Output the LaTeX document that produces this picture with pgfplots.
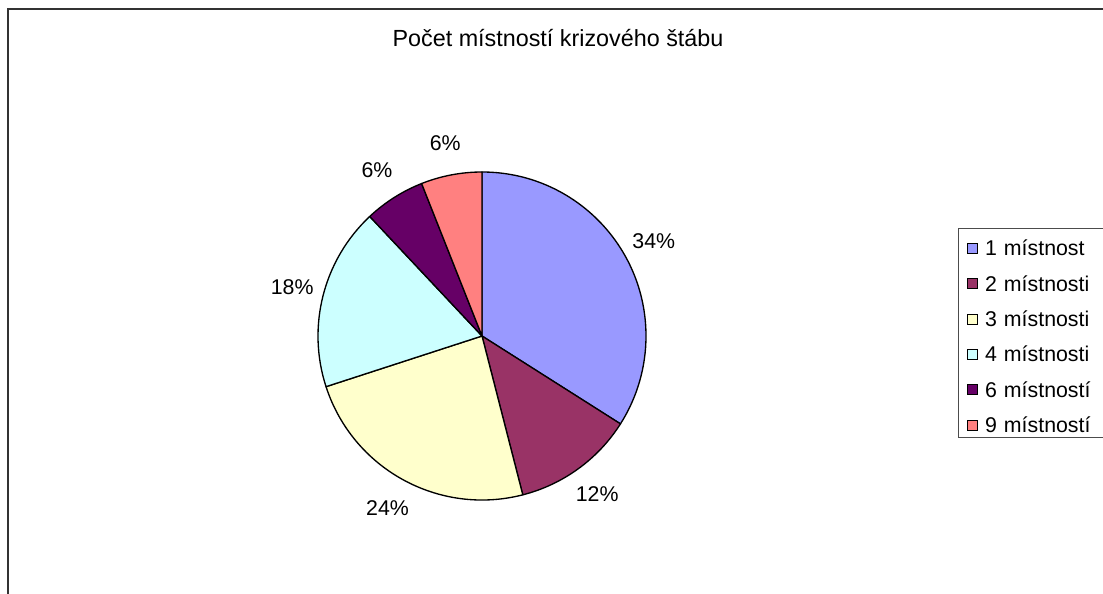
\documentclass[border=0pt]{standalone}
\usepackage{fontspec}
\setmainfont{Liberation Sans}
\usepackage{pgfplots}
\usepackage{pgfplotstable}
\pgfplotsset{compat=1.18}
\definecolor{c0}{HTML}{9999FF}
\definecolor{c1}{HTML}{993366}
\definecolor{c2}{HTML}{FFFFCC}
\definecolor{c3}{HTML}{CCFFFF}
\definecolor{c4}{HTML}{660066}
\definecolor{c5}{HTML}{FF8080}
\pgfplotstableread[col sep=comma]{
label,count
1 místnost,17
2 místnosti,6
3 místnosti,12
4 místnosti,9
6 místností,3
9 místností,3
}\piedata
\def\cx{482}\def\cy{257}\def\R{164}
\begin{document}
\fontsize{16}{19}\selectfont
\begin{tikzpicture}
\useasboundingbox (0,0) rectangle (827.25pt,444.75pt);
% total
\def\total{0}
\pgfplotsforeachungrouped \i in {0,...,5}{%
  \pgfplotstablegetelem{\i}{count}\of\piedata
  \pgfmathsetmacro\total{\total+\pgfplotsretval}%
}
\def\cum{0}
\pgfplotsforeachungrouped \i in {0,...,5}{%
  \pgfplotstablegetelem{\i}{count}\of\piedata
  \let\vv\pgfplotsretval
  \pgfmathsetmacro\a{90-360*(\cum/\total)}%
  \pgfmathsetmacro\cumn{\cum+\vv}%
  \pgfmathsetmacro\b{90-360*(\cumn/\total)}%
  \pgfmathsetmacro\m{(\a+\b)/2}%
  \pgfmathtruncatemacro\p{round(100*(\vv/\total))}%
  \pgfmathsetmacro\sx{\cx+\R*cos(\a)}%
  \pgfmathsetmacro\sy{\cy+\R*sin(\a)}%
  \pgfmathsetmacro\lx{\cx+196*cos(\m)}%
  \pgfmathsetmacro\ly{\cy+196*sin(\m)}%
  \expandafter\xdef\csname pa\i\endcsname{\a}%
  \expandafter\xdef\csname pb\i\endcsname{\b}%
  \expandafter\xdef\csname sx\i\endcsname{\sx}%
  \expandafter\xdef\csname sy\i\endcsname{\sy}%
  \expandafter\xdef\csname lx\i\endcsname{\lx}%
  \expandafter\xdef\csname ly\i\endcsname{\ly}%
  \expandafter\xdef\csname pp\i\endcsname{\p}%
  \global\let\cum\cumn
}
\begin{axis}[
  at={(0,0)}, anchor=south west,
  width=827.25pt, height=444.75pt, scale only axis,
  xmin=0, xmax=1103, ymin=0, ymax=593,
  hide axis, clip=false,
  legend style={at={(axis cs:958,365)}, anchor=north west,
    draw=black!70, line width=0.8pt,
    inner xsep=6.5pt, inner ysep=3.4pt,
    nodes={font=\fontsize{16}{19}\selectfont, inner xsep=0pt, inner ysep=0pt,
      text height=17pt, text depth=0pt, text width=92pt, align=left},
    row sep=9.55pt},
  legend cell align=left,
  legend image code/.code={\draw[#1, draw=black, line width=0.7pt] (0pt,-6.65pt) rectangle (7.5pt,0.85pt);
     \path[draw=none, fill=none] (0pt,0pt) -- (13pt,0pt);},
]
\draw[black!80, line width=1.1pt] (axis cs:8,-20) -- (axis cs:8,584) -- (axis cs:1130,584);
\node[anchor=base, font=\fontsize{17.5}{20}\selectfont] at (axis cs:558,546) {Počet místností krizového štábu};
\pgfplotsinvokeforeach{0,...,5}{
  \filldraw[fill=c#1, draw=black, line width=1pt, line join=round]
    (axis cs:\cx,\cy) -- (axis cs:\csname sx#1\endcsname,\csname sy#1\endcsname)
    arc[start angle=\csname pa#1\endcsname, end angle=\csname pb#1\endcsname, radius=123pt] -- cycle;
  \node at (axis cs:\csname lx#1\endcsname,\csname ly#1\endcsname) {\csname pp#1\endcsname\%};
}
\addlegendimage{fill=c0}\addlegendentry{1 místnost}
\addlegendimage{fill=c1}\addlegendentry{2 místnosti}
\addlegendimage{fill=c2}\addlegendentry{3 místnosti}
\addlegendimage{fill=c3}\addlegendentry{4 místnosti}
\addlegendimage{fill=c4}\addlegendentry{6 místností}
\addlegendimage{fill=c5}\addlegendentry{9 místností}
\end{axis}
\end{tikzpicture}
\end{document}
